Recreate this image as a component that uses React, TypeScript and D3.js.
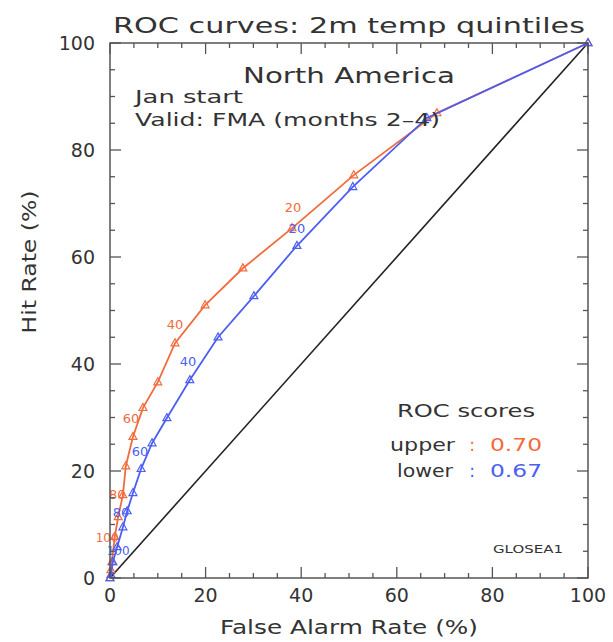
import React from "react";
import * as d3 from "d3";

const upperFAR = [0, 0.2, 0.4, 1.0, 1.7, 2.7, 3.3, 4.8, 6.9, 10.0, 13.6, 19.9, 27.8, 38.1, 51.0, 68.4, 100];
const upperHR = [0, 1.5, 3.0, 7.7, 11.4, 15.5, 20.9, 26.4, 31.8, 36.6, 43.9, 51.0, 57.9, 65.4, 75.3, 86.9, 100];
const lowerFAR = [0, 0.2, 0.6, 1.5, 2.7, 3.6, 4.8, 6.5, 8.8, 11.9, 16.7, 22.6, 30.1, 39.1, 50.8, 66.3, 100];
const lowerHR = [0, 0.6, 3.0, 5.8, 9.5, 12.5, 15.9, 20.4, 25.2, 29.9, 37.0, 45.0, 52.7, 62.1, 73.1, 86.0, 100];

const probLabels = ["100", "80", "60", "40", "20"];
const upperLabelFAR = [-0.6, 1.5, 4.4, 13.6, 38.3];
const upperLabelHR = [7.4, 15.6, 29.9, 47.3, 69.3];
const lowerLabelFAR = [1.7, 2.3, 6.3, 16.3, 39.1];
const lowerLabelHR = [5.0, 12.3, 23.6, 40.4, 65.4];

const majorTicks = [0, 20, 40, 60, 80, 100];
const minorTicks = d3.range(0, 101, 5);

const upperScore = "0.70";
const lowerScore = "0.67";

const ORANGE = "#f26b3c";
const BLUE = "#4c5ff0";
const TEXT = "#333";
const FONT = "DejaVu Sans, sans-serif";

export default function App() {
  const left = 110, right = 588, top = 43, bottom = 578;
  const x = d3.scaleLinear().domain([0, 100]).range([left, right]);
  const y = d3.scaleLinear().domain([0, 100]).range([bottom, top]);

  const line = d3.line<[number, number]>().x(d => x(d[0])).y(d => y(d[1]));
  const upperPts: [number, number][] = upperFAR.map((v, i) => [v, upperHR[i]]);
  const lowerPts: [number, number][] = lowerFAR.map((v, i) => [v, lowerHR[i]]);

  const tri = (cx: number, cy: number, s = 4.4) =>
    `M${cx},${cy - s}L${cx + s * 0.9},${cy + s * 0.6}L${cx - s * 0.9},${cy + s * 0.6}Z`;

  const axisColor = "#555";

  const series = [
    { pts: upperPts, color: ORANGE, lf: upperLabelFAR, lh: upperLabelHR },
    { pts: lowerPts, color: BLUE, lf: lowerLabelFAR, lh: lowerLabelHR },
  ];

  return (
    <svg width={613} height={642} style={{ position: "absolute", left: 0, top: 0, background: "#fff" }}>
      {/* title */}
      <text x={349} y={33} fontFamily={FONT} fontSize={22} fill={TEXT} textAnchor="middle"
        textLength={472} lengthAdjust="spacingAndGlyphs">ROC curves: 2m temp quintiles</text>

      {/* diagonal */}
      <line x1={x(0)} y1={y(0)} x2={x(100)} y2={y(100)} stroke="#222" strokeWidth={1.6} />

      {/* curves */}
      {series.map((s, si) => (
        <g key={si}>
          <path d={line(s.pts) || ""} fill="none" stroke={s.color} strokeWidth={1.8} />
          {s.pts.map((p, i) => (
            <path key={i} d={tri(x(p[0]), y(p[1]))} fill="none" stroke={s.color} strokeWidth={1.2} />
          ))}
          {probLabels.map((t, i) => (
            <text key={t} x={x(s.lf[i])} y={y(s.lh[i])} fontFamily={FONT} fontSize={i === 0 ? 12 : 13}
              fill={s.color} textAnchor="middle" dominantBaseline="central">{t}</text>
          ))}
        </g>
      ))}

      {/* frame */}
      <rect x={left} y={top} width={right - left} height={bottom - top} fill="none" stroke={axisColor} strokeWidth={1.5} />

      {/* ticks */}
      {minorTicks.map(t => {
        const major = majorTicks.includes(t);
        const len = major ? 11 : 5;
        return (
          <g key={t} stroke={axisColor} strokeWidth={1.3}>
            <line x1={x(t)} x2={x(t)} y1={bottom} y2={bottom - len} />
            <line x1={x(t)} x2={x(t)} y1={top} y2={top + len} />
            <line x1={left} x2={left + len} y1={y(t)} y2={y(t)} />
            <line x1={right} x2={right - len} y1={y(t)} y2={y(t)} />
          </g>
        );
      })}

      {/* tick labels */}
      {majorTicks.map(t => (
        <text key={"x" + t} x={x(t)} y={602} fontFamily={FONT} fontSize={19} fill={TEXT} textAnchor="middle">{t}</text>
      ))}
      {majorTicks.map(t => (
        <text key={"y" + t} x={95} y={y(t)} fontFamily={FONT} fontSize={19} fill={TEXT} textAnchor="end"
          dominantBaseline="central">{t}</text>
      ))}

      {/* axis titles */}
      <text x={349} y={634} fontFamily={FONT} fontSize={19} fill={TEXT} textAnchor="middle"
        textLength={258} lengthAdjust="spacingAndGlyphs">False Alarm Rate (%)</text>
      <text transform="translate(36,262) rotate(-90)" fontFamily={FONT} fontSize={19} fill={TEXT} textAnchor="middle"
        textLength={143} lengthAdjust="spacingAndGlyphs">Hit Rate (%)</text>

      {/* annotations */}
      <text x={349} y={83} fontFamily={FONT} fontSize={22} fill={TEXT} textAnchor="middle"
        textLength={212} lengthAdjust="spacingAndGlyphs">North America</text>
      <text x={135} y={103} fontFamily={FONT} fontSize={17} fill={TEXT}
        textLength={108} lengthAdjust="spacingAndGlyphs">Jan start</text>
      <text x={135} y={126} fontFamily={FONT} fontSize={17} fill={TEXT}
        textLength={305} lengthAdjust="spacingAndGlyphs">Valid: FMA (months 2–4)</text>

      {/* ROC scores */}
      <text x={397} y={417} fontFamily={FONT} fontSize={17} fill={TEXT}
        textLength={138} lengthAdjust="spacingAndGlyphs">ROC scores</text>
      <text x={390} y={451} fontFamily={FONT} fontSize={17} fill={TEXT}
        textLength={65} lengthAdjust="spacingAndGlyphs">upper</text>
      <text x={472} y={451} fontFamily={FONT} fontSize={17} fill={ORANGE} textAnchor="middle">:</text>
      <text x={490} y={451} fontFamily={FONT} fontSize={17} fill={ORANGE}
        textLength={52} lengthAdjust="spacingAndGlyphs">{upperScore}</text>
      <text x={397} y={477} fontFamily={FONT} fontSize={17} fill={TEXT}
        textLength={56} lengthAdjust="spacingAndGlyphs">lower</text>
      <text x={472} y={477} fontFamily={FONT} fontSize={17} fill={BLUE} textAnchor="middle">:</text>
      <text x={490} y={477} fontFamily={FONT} fontSize={17} fill={BLUE}
        textLength={52} lengthAdjust="spacingAndGlyphs">{lowerScore}</text>

      <text x={493} y={553} fontFamily={FONT} fontSize={11} fill={TEXT}
        textLength={70} lengthAdjust="spacingAndGlyphs">GLOSEA1</text>
    </svg>
  );
}
